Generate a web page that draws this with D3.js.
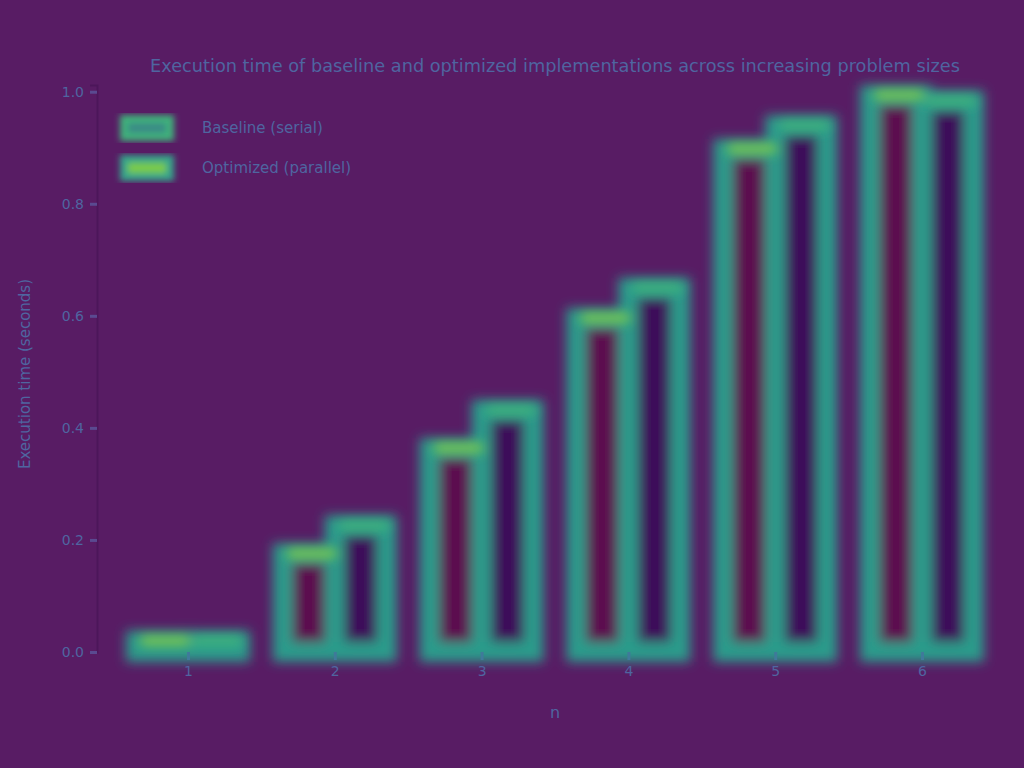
<!DOCTYPE html>
<html>
<head>
<meta charset="utf-8">
<script src="https://cdn.jsdelivr.net/npm/d3@7"></script>
<style>
  html, body { margin: 0; padding: 0; background: #581c64; }
  svg { display: block; }
</style>
</head>
<body>
<svg id="chart" width="1024" height="768"></svg>
<script>
// ---- data ----
const categories = ["1", "2", "3", "4", "5", "6"];
const seriesNames = ["Baseline (serial)", "Optimized (parallel)"];
const seriesA = [0.02, 0.176, 0.364, 0.596, 0.898, 0.994];
const seriesB = [0.02, 0.226, 0.432, 0.650, 0.940, 0.984];
const yTicks = [0, 0.2, 0.4, 0.6, 0.8, 1.0];
const titleText = "Execution time of baseline and optimized implementations across increasing problem sizes";
const xLabel = "n";
const yLabel = "Execution time (seconds)";

// ---- layout ----
const W = 1024, H = 768;
const mLeft = 97, mRight = 1013, mTop = 85, mBottom = 652;
const barW = 52;
const colors = ["#5c1050", "#3e0b5a"];
const edge = "#2b9b8b";
const textColor = "#4f65a0";

const svg = d3.select("#chart");
const defs = svg.append("defs");
const f = defs.append("filter").attr("id", "glow").attr("x", "-30%").attr("y", "-30%").attr("width", "160%").attr("height", "160%");
f.append("feGaussianBlur").attr("stdDeviation", 6);
const f2 = defs.append("filter").attr("id", "soft").attr("x", "-30%").attr("y", "-30%").attr("width", "160%").attr("height", "160%");
f2.append("feGaussianBlur").attr("stdDeviation", 3);

svg.append("rect").attr("width", W).attr("height", H).attr("fill", "#581c64");

const x = d3.scalePoint().domain(categories).range([mLeft, mRight]).padding(0.62);
const y = d3.scaleLinear().domain([0, 1.012]).range([mBottom, mTop]);

const rows = categories.map((c, i) => ({ c, vals: [seriesA[i], seriesB[i]] }));

// bars
const gBars = svg.append("g").attr("filter", "url(#glow)");
rows.forEach(r => {
  r.vals.forEach((v, k) => {
    const x0 = x(r.c) - barW + k * barW;
    gBars.append("rect")
      .attr("x", x0).attr("y", y(v))
      .attr("width", barW).attr("height", Math.max(1, y(0) - y(v)))
      .attr("fill", colors[k])
      .attr("stroke", edge).attr("stroke-width", 20);
  });
});
// brighter tops
const gTops = svg.append("g").attr("filter", "url(#glow)");
rows.forEach(r => {
  r.vals.forEach((v, k) => {
    const x0 = x(r.c) - barW + k * barW;
    gTops.append("line")
      .attr("x1", x0 + 8).attr("x2", x0 + barW - 2)
      .attr("y1", y(v)).attr("y2", y(v))
      .attr("stroke", k === 0 ? "#8fd33f" : "#45b978").attr("stroke-width", 8).attr("stroke-linecap", "round");
  });
});

// axes
const yAxis = d3.axisLeft(y).tickValues(yTicks).tickFormat(d3.format(".1f")).tickSize(7).tickPadding(6);
const gy = svg.append("g").attr("transform", `translate(${mLeft},0)`).call(yAxis);
gy.select(".domain").attr("stroke", "#4c165a").attr("stroke-width", 2);
gy.selectAll(".tick line").attr("stroke", "#5a4a90").attr("stroke-width", 3);
gy.selectAll(".tick text").attr("fill", textColor).attr("font-family", "DejaVu Sans, sans-serif").attr("font-size", 14);

const xAxis = d3.axisBottom(x).tickSize(8).tickPadding(6);
const gx = svg.append("g").attr("transform", `translate(0,${mBottom})`).call(xAxis);
gx.select(".domain").remove();
gx.selectAll(".tick line").attr("stroke", "#3f7a9a").attr("stroke-width", 3);
gx.selectAll(".tick text").attr("fill", textColor).attr("font-family", "DejaVu Sans, sans-serif").attr("font-size", 14);

// title
svg.append("text").attr("x", 555).attr("y", 72).attr("text-anchor", "middle")
  .attr("fill", textColor).attr("font-family", "DejaVu Sans, sans-serif").attr("font-size", 17)
  .attr("textLength", 810).attr("lengthAdjust", "spacingAndGlyphs")
  .text(titleText);

// axis labels
svg.append("text").attr("x", 555).attr("y", 718).attr("text-anchor", "middle")
  .attr("fill", textColor).attr("font-family", "DejaVu Sans, sans-serif").attr("font-size", 16)
  .text(xLabel);
svg.append("text").attr("transform", "translate(30,374) rotate(-90)").attr("text-anchor", "middle")
  .attr("fill", textColor).attr("font-family", "DejaVu Sans, sans-serif").attr("font-size", 15)
  .text(yLabel);

// legend
const lg = svg.append("g").attr("transform", "translate(124,128)");
seriesNames.forEach((n, k) => {
  const row = lg.append("g").attr("transform", `translate(0,${k * 40})`);
  row.append("rect").attr("x", 0).attr("y", -9).attr("width", 46).attr("height", 18)
    .attr("fill", k === 0 ? "#3a8a86" : "#7ccc45").attr("stroke", k === 0 ? "#3fb27a" : "#35a58a").attr("stroke-width", 8)
    .attr("filter", "url(#soft)");
  row.append("text").attr("x", 78).attr("y", 5)
    .attr("fill", textColor).attr("font-family", "DejaVu Sans, sans-serif").attr("font-size", 15)
    .text(n);
});
</script>
</body>
</html>
